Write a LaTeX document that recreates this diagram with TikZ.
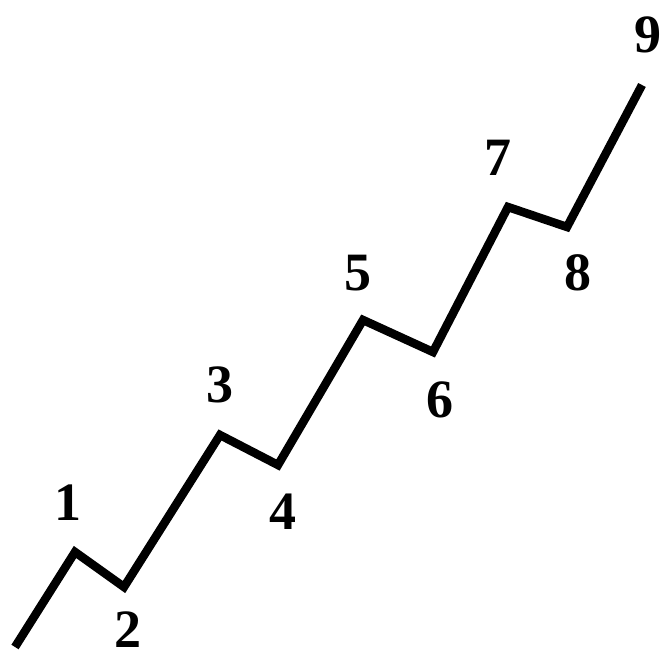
\documentclass[tikz,border=0pt]{standalone}
\usepackage{fontspec}
\setmainfont{Liberation Serif}
\begin{document}
\begin{tikzpicture}[x=1pt,y=-1pt,
  zig/.style={line width=8.5pt,line join=miter,line cap=butt},
  lbl/.style={font=\fontsize{54}{60}\selectfont\bfseries,inner sep=0pt}]
\useasboundingbox (0,0) rectangle (666,660);
\coordinate (s) at (15,647);
\coordinate (p1) at (75,552);
\coordinate (p2) at (124,587);
\coordinate (p3) at (220,435);
\coordinate (p4) at (278,465);
\coordinate (p5) at (363,320);
\coordinate (p6) at (433,352);
\coordinate (p7) at (508,207);
\coordinate (p8) at (567,227);
\coordinate (p9) at (642,85);
\draw[zig] (s) -- (p1) -- (p2) -- (p3) -- (p4) -- (p5) -- (p6) -- (p7) -- (p8) -- (p9);
\node[lbl] (l1) at (68,503) {1};
\node[lbl] (l2) at (128,630) {2};
\node[lbl] (l3) at (220,385) {3};
\node[lbl] (l4) at (283,512) {4};
\node[lbl] (l5) at (358,273) {5};
\node[lbl] (l6) at (440,400) {6};
\node[lbl] (l7) at (498,158) {7};
\node[lbl] (l8) at (578,273) {8};
\node[lbl] (l9) at (648,35) {9};
\end{tikzpicture}
\end{document}
